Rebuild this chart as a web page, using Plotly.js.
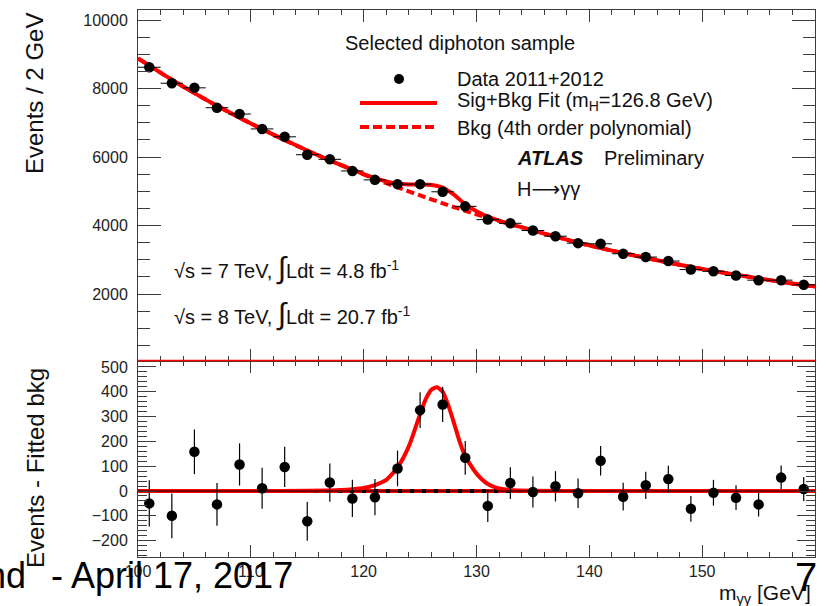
<!DOCTYPE html>
<html><head><meta charset="utf-8">
<script src="https://cdn.plot.ly/plotly-3.0.1.min.js"></script>
<style>html,body{margin:0;padding:0;background:#fff;}#chart{width:826px;height:606px;}</style>
</head><body><div id="chart"></div>
<script>
// ---- data ----
const massBins = [101,103,105,107,109,111,113,115,117,119,121,123,125,127,129,131,133,135,137,139,141,143,145,147,149,151,153,155,157,159];
const dataEvents = [8620,8154,8020,7440,7255,6820,6590,6067,5933,5594,5333,5208,5208,4985,4560,4173,4066,3854,3689,3486,3467,3177,3080,2964,2715,2666,2541,2405,2405,2270];
const dataErrors = [93,90,90,86,85,83,81,78,77,75,73,72,72,71,68,65,64,62,61,59,59,56,55,54,52,52,50,49,49,48];
const residuals = [-50,-100,158,-54,107,11,97,-122,34,-30,-25,91,326,349,134,-60,32,-4,19,-9,122,-23,23,48,-72,-7,-27,-54,54,8];

const bkgX = [100,101,103,105,107,109,111,113,115,117,119,121,123,125,127,129,131,133,135,137,139,141,143,145,147,149,151,153,155,157,159,160];
const bkgY = [8880,8670,8254,7865,7494,7148,6815,6495,6190,5900,5625,5360,5115,4880,4650,4430,4230,4035,3855,3675,3500,3342,3195,3055,2920,2790,2673,2565,2458,2355,2262,2218];

const sbX = [100,101,103,105,107,109,111,113,115,117,119,120,121,122,123,124,125,126,127,128,129,130,131,132,133,135,137,139,141,143,145,147,149,151,153,155,157,159,160];
const sbY = [8880,8670,8254,7865,7494,7148,6815,6495,6191,5902,5632,5504,5384,5285,5225,5200,5200,5185,5110,4900,4620,4420,4258,4142,4039,3856,3675,3500,3342,3195,3055,2920,2790,2673,2565,2458,2355,2262,2218];

const sigX = [100,110,115,118,119,120,121,122,123,124,125,125.5,126,126.5,127,127.5,128,128.5,129,130,131,132,133,135,140,160];
const sigY = [0,0,1,4,7,12,24,45,95,180,310,370,408,418,400,345,275,200,140,70,28,10,4,1,0,0];

const zeroX = [100,160];
const zeroY = [0,0];

// ---- geometry helpers (pixel -> paper) ----
const L = 138, W = 677, B = 557, H = 547;
const px = x => (x - L) / W;
const py = y => (B - y) / H;
const split = 0.3583;

const RED = '#ff0000';
const FRAME = '#3c3c3c';
const FONT = '"Liberation Sans", Arial, Helvetica, sans-serif';

const traces = [
  // top panel
  {x: bkgX, y: bkgY, xaxis:'x2', yaxis:'y2', mode:'lines', line:{color:RED, width:4, dash:'8px,4px', shape:'spline', smoothing:0.8}, hoverinfo:'skip'},
  {x: sbX, y: sbY, xaxis:'x2', yaxis:'y2', mode:'lines', line:{color:RED, width:4, shape:'spline', smoothing:0.8}, hoverinfo:'skip'},
  {x: massBins, y: dataEvents, xaxis:'x2', yaxis:'y2', mode:'markers',
   marker:{color:'#000', size:10.5, symbol:'circle'},
   error_x:{type:'constant', value:1, color:'#000', thickness:1, width:0},
   error_y:{type:'data', array:dataErrors, color:'#000', thickness:1, width:0}},
  // bottom panel
  {x: zeroX, y: zeroY, xaxis:'x', yaxis:'y', mode:'lines', line:{color:'#000', width:4}, hoverinfo:'skip'},
  {x: zeroX, y: zeroY, xaxis:'x', yaxis:'y', mode:'lines', line:{color:RED, width:4, dash:'8px,4px'}, hoverinfo:'skip'},
  {x: sigX, y: sigY, xaxis:'x', yaxis:'y', mode:'lines', line:{color:RED, width:4, shape:'spline', smoothing:0.6}, hoverinfo:'skip'},
  {x: zeroX, y: zeroY, xaxis:'x', yaxis:'y', mode:'lines', line:{color:'#000', width:1}, hoverinfo:'skip'},
  {x: massBins, y: residuals, xaxis:'x', yaxis:'y', mode:'markers',
   marker:{color:'#000', size:10.5, symbol:'circle'},
   error_y:{type:'data', array:dataErrors, color:'#000', thickness:1.2, width:0}}
];

const axBase = {
  ticks:'inside', tickcolor:FRAME, tickwidth:1, showline:true, linecolor:FRAME, linewidth:1,
  mirror:'ticks', showgrid:false, zeroline:false, tickformat:'d', tickfont:{size:16, color:'#222', family:FONT}
};

const ann = (text, x, y, opt) => Object.assign({text, x:px(x), y:py(y), xref:'paper', yref:'paper',
  xanchor:'left', yanchor:'middle', showarrow:false, font:{size:20, color:'#111', family:FONT}}, opt||{});

const layout = {
  width:826, height:606,
  margin:{l:138, r:11, t:10, b:49, pad:0},
  paper_bgcolor:'#fff', plot_bgcolor:'#fff', showlegend:false,
  font:{family:FONT, color:'#111'},
  xaxis: Object.assign({}, axBase, {domain:[0,1], anchor:'y', range:[100,160], tickmode:'linear', tick0:100, dtick:10,
    ticklen:12, ticklabelstandoff:0, minor:{dtick:2, ticklen:5, tickcolor:FRAME, tickwidth:1, ticks:'inside'}}),
  yaxis: Object.assign({}, axBase, {domain:[0,split], anchor:'x', range:[-266,524], tickmode:'linear', tick0:0, dtick:100,
    ticklen:18, ticklabelstandoff:6, minor:{dtick:20, ticklen:9, tickcolor:FRAME, tickwidth:1, ticks:'inside'}}),
  xaxis2: Object.assign({}, axBase, {domain:[0,1], anchor:'y2', matches:'x', range:[100,160], tickmode:'linear', tick0:100, dtick:10,
    showticklabels:false, ticklen:12, minor:{dtick:2, ticklen:5, tickcolor:FRAME, tickwidth:1, ticks:'inside'}}),
  yaxis2: Object.assign({}, axBase, {domain:[split,1], anchor:'x2', range:[45,10292], tickmode:'linear', tick0:0, dtick:2000,
    ticklen:23, ticklabelstandoff:6, minor:{dtick:500, ticklen:12, tickcolor:FRAME, tickwidth:1, ticks:'inside'}}),
  shapes: [
    {type:'line', xref:'paper', yref:'paper', x0:0, x1:1, y0:py(360.5), y1:py(360.5), line:{color:RED, width:1.5}},
    {type:'circle', xref:'paper', yref:'paper', x0:px(394), x1:px(404), y0:py(84), y1:py(74), fillcolor:'#000', line:{width:0}},
    {type:'line', xref:'paper', yref:'paper', x0:px(360), x1:px(437), y0:py(103), y1:py(103), line:{color:RED, width:4}},
    {type:'line', xref:'paper', yref:'paper', x0:px(360), x1:px(437), y0:py(127), y1:py(127), line:{color:RED, width:4, dash:'9px,4px'}}
  ],
  annotations: [
    ann('Selected diphoton sample', 343, 43),
    ann('Data 2011+2012', 455, 79),
    ann('Sig+Bkg Fit (m<sub>H</sub>=126.8 GeV)', 455, 101),
    ann('Bkg (4th order polynomial)', 455, 128),
    ann('<b><i>ATLAS</i></b>', 515, 158),
    ann('Preliminary', 602, 158),
    ann('H<span style="font-family:DejaVu Sans">\u27f6</span>\u03b3\u03b3', 515, 189),
    ann('\u221as = 7 TeV, <span style="font-size:30px">\u222b</span>Ldt = 4.8 fb<sup>-1</sup>', 172, 268),
    ann('\u221as = 8 TeV, <span style="font-size:30px">\u222b</span>Ldt = 20.7 fb<sup>-1</sup>', 172, 314),
    ann('Events / 2 GeV', 34, 94, {xanchor:'center', textangle:-90, font:{size:24, color:'#111', family:FONT}}),
    ann('Events - Fitted bkg', 35, 468, {xanchor:'center', textangle:-90, font:{size:24, color:'#111', family:FONT}}),
    ann('m<sub>\u03b3\u03b3</sub> [GeV]', 765, 594, {xanchor:'center', font:{size:21, color:'#111', family:FONT}}),
    ann('nd', 28, 575, {xanchor:'right', font:{size:36, color:'#000', family:FONT}}),
    ann('- April 17, 2017', 49, 575, {font:{size:36, color:'#000', family:FONT}}),
    ann('7', 806, 577, {xanchor:'center', font:{size:40, color:'#000', family:FONT}})
  ]
};

Plotly.newPlot('chart', traces, layout, {displayModeBar:false, staticPlot:true});
</script>
</body></html>
